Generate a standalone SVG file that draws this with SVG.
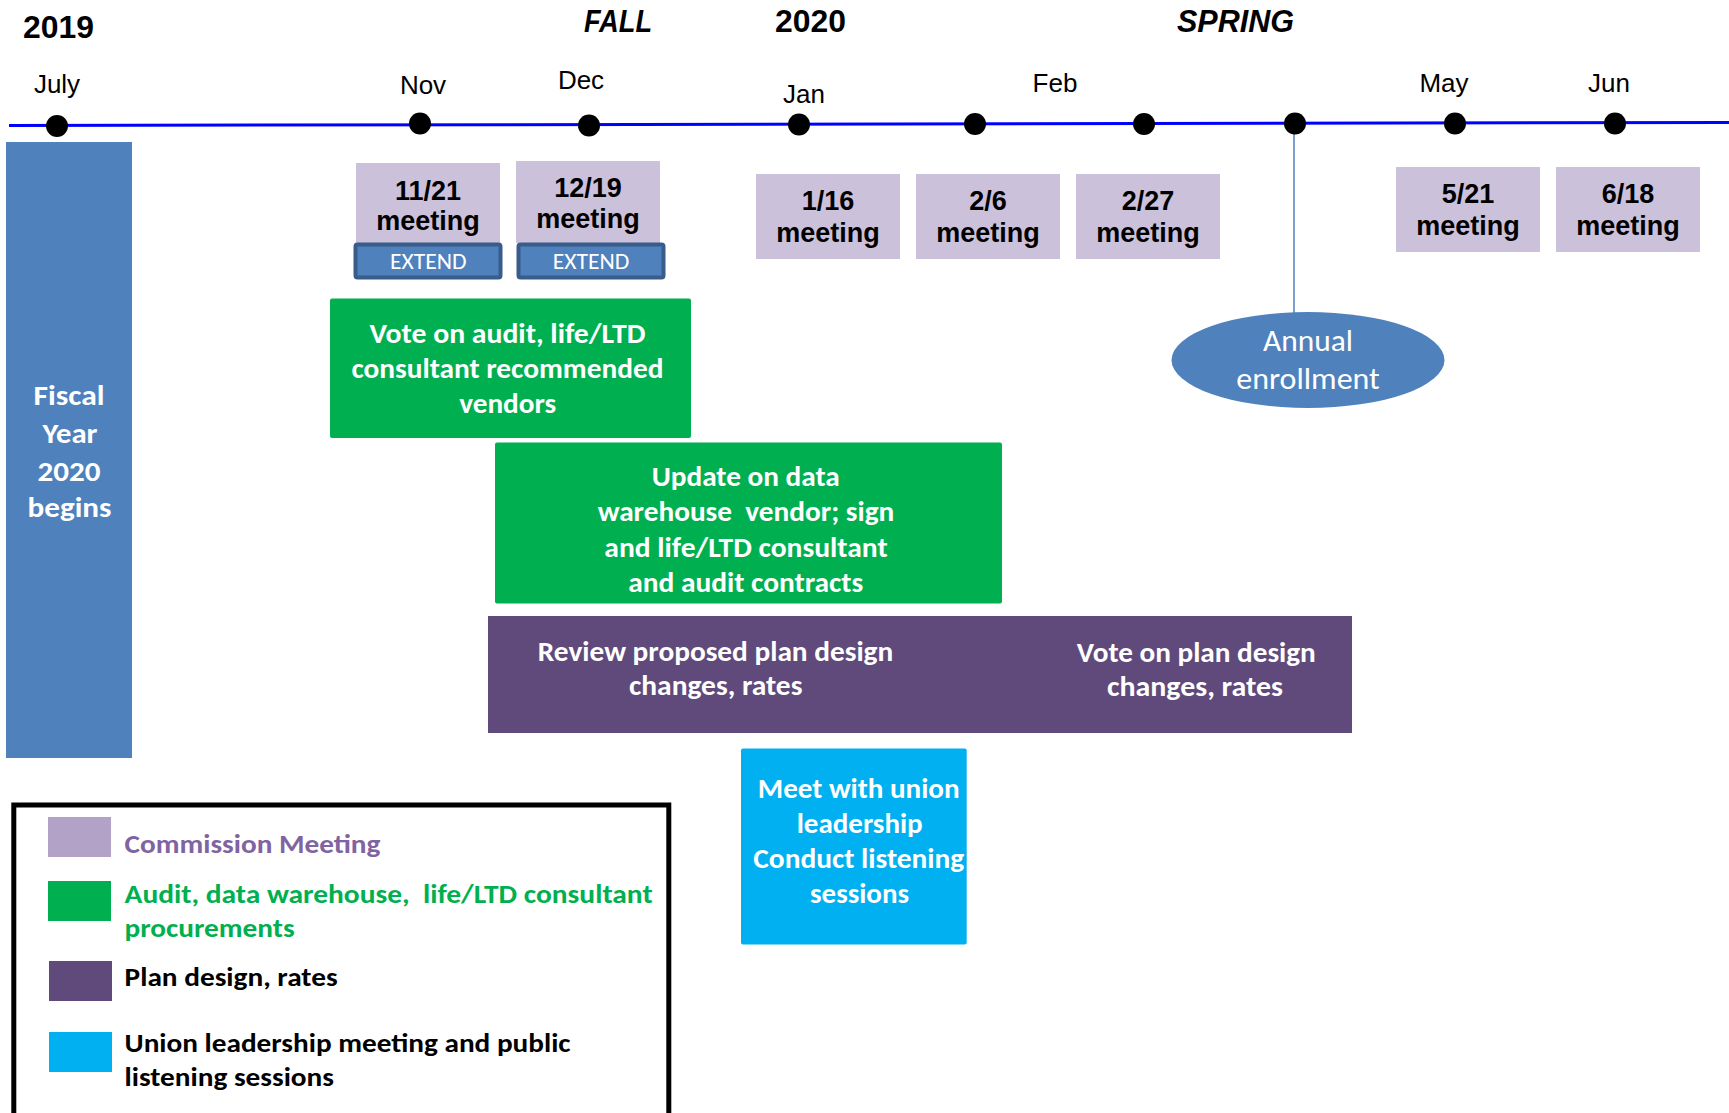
<svg xmlns="http://www.w3.org/2000/svg" width="1729" height="1113" viewBox="0 0 1729 1113">
<style>
.hdr{font-family:"Liberation Sans",Arial,sans-serif;font-weight:bold;font-size:32px;fill:#000;}
.mon{font-family:"Liberation Sans",Arial,sans-serif;font-size:26px;fill:#000;text-anchor:middle;}
.mtg{font-family:"Liberation Sans",Arial,sans-serif;font-weight:bold;font-size:27px;fill:#000;text-anchor:middle;}
.cal{font-family:Carlito,Lato,"Liberation Sans",sans-serif;}
.wb{font-family:Carlito,Lato,"Liberation Sans",sans-serif;font-weight:bold;font-size:27.5px;fill:#fff;text-anchor:middle;}
.leg{font-family:Carlito,Lato,"Liberation Sans",sans-serif;font-weight:bold;font-size:27px;}
.meet{fill:#CCC1DA;}
.dot{fill:#000;}
.ext{fill:#4F81BD;stroke:#385D8A;stroke-width:4;}
.extt{font-family:Carlito,Lato,"Liberation Sans",sans-serif;font-size:23px;fill:#fff;text-anchor:middle;}
</style>

<g id="headers">
<text class="hdr" x="23" y="38" textLength="71" lengthAdjust="spacingAndGlyphs">2019</text>
<text class="hdr" x="584" y="32" font-style="italic" textLength="68" lengthAdjust="spacingAndGlyphs">FALL</text>
<text class="hdr" x="775" y="32" textLength="71" lengthAdjust="spacingAndGlyphs">2020</text>
<text class="hdr" x="1177" y="32" font-style="italic" textLength="117" lengthAdjust="spacingAndGlyphs">SPRING</text>
</g>

<g id="months">
<text class="mon" x="57" y="93">July</text>
<text class="mon" x="423" y="94">Nov</text>
<text class="mon" x="581" y="89">Dec</text>
<text class="mon" x="804" y="103">Jan</text>
<text class="mon" x="1055" y="92">Feb</text>
<text class="mon" x="1444" y="92">May</text>
<text class="mon" x="1609" y="92">Jun</text>
</g>

<g id="connectors">
<line x1="9" y1="125.5" x2="1729" y2="122.5" stroke="#0000FF" stroke-width="3"/>
<line x1="1294" y1="125" x2="1294" y2="313" stroke="#4F81BD" stroke-width="1.5"/>
</g>

<g id="dots">
<circle class="dot" cx="57" cy="126" r="11"/>
<circle class="dot" cx="420" cy="123.5" r="11"/>
<circle class="dot" cx="589" cy="125.5" r="11"/>
<circle class="dot" cx="799" cy="124.5" r="11"/>
<circle class="dot" cx="975" cy="124" r="11"/>
<circle class="dot" cx="1144" cy="124" r="11"/>
<circle class="dot" cx="1295" cy="123.5" r="11"/>
<circle class="dot" cx="1455" cy="123.5" r="11"/>
<circle class="dot" cx="1615" cy="123.5" r="11"/>
</g>

<g id="fiscal-year">
<rect x="6" y="142" width="126" height="616" fill="#4F81BD"/>
<text class="wb" font-size="31" x="69" y="405" textLength="71" lengthAdjust="spacingAndGlyphs">Fiscal</text>
<text class="wb" font-size="31" x="70" y="443" textLength="55" lengthAdjust="spacingAndGlyphs">Year</text>
<text class="wb" font-size="31" x="69" y="481" textLength="63" lengthAdjust="spacingAndGlyphs">2020</text>
<text class="wb" font-size="31" x="69.5" y="517" textLength="84" lengthAdjust="spacingAndGlyphs">begins</text>
</g>

<g id="meeting-1121">
<rect class="meet" x="356" y="163" width="144" height="80"/>
<text class="mtg" x="428" y="200">11/21</text>
<text class="mtg" x="428" y="230">meeting</text>
<rect class="ext" x="355.5" y="244.5" width="145" height="33" rx="2"/>
<text class="extt" x="428.3" y="269" textLength="76.7" lengthAdjust="spacingAndGlyphs">EXTEND</text>
</g>

<g id="meeting-1219">
<rect class="meet" x="516" y="161" width="144" height="82"/>
<text class="mtg" x="588" y="197">12/19</text>
<text class="mtg" x="588" y="228">meeting</text>
<rect class="ext" x="518.5" y="244.5" width="145" height="33" rx="2"/>
<text class="extt" x="591" y="269" textLength="76.7" lengthAdjust="spacingAndGlyphs">EXTEND</text>
</g>

<g id="meeting-116">
<rect class="meet" x="756" y="174" width="144" height="85"/>
<text class="mtg" x="828" y="210">1/16</text>
<text class="mtg" x="828" y="242">meeting</text>
</g>
<g id="meeting-26">
<rect class="meet" x="916" y="174" width="144" height="85"/>
<text class="mtg" x="988" y="210">2/6</text>
<text class="mtg" x="988" y="242">meeting</text>
</g>
<g id="meeting-227">
<rect class="meet" x="1076" y="174" width="144" height="85"/>
<text class="mtg" x="1148" y="210">2/27</text>
<text class="mtg" x="1148" y="242">meeting</text>
</g>
<g id="meeting-521">
<rect class="meet" x="1396" y="167" width="144" height="85"/>
<text class="mtg" x="1468" y="203">5/21</text>
<text class="mtg" x="1468" y="235">meeting</text>
</g>
<g id="meeting-618">
<rect class="meet" x="1556" y="167" width="144" height="85"/>
<text class="mtg" x="1628" y="203">6/18</text>
<text class="mtg" x="1628" y="235">meeting</text>
</g>

<g id="annual-enrollment">
<ellipse cx="1308" cy="360" rx="136.5" ry="48" fill="#4F81BD"/>
<text class="cal" font-size="31" fill="#fff" text-anchor="middle" x="1308" y="351" textLength="90" lengthAdjust="spacingAndGlyphs">Annual</text>
<text class="cal" font-size="31" fill="#fff" text-anchor="middle" x="1308" y="389" textLength="143.5" lengthAdjust="spacingAndGlyphs">enrollment</text>
</g>

<g id="vote-vendors">
<rect x="330" y="298.5" width="361" height="139.5" rx="2" fill="#00B050"/>
<text class="wb" x="507.4" y="343" textLength="276" lengthAdjust="spacingAndGlyphs">Vote on audit, life/LTD</text>
<text class="wb" x="507.4" y="378" textLength="312" lengthAdjust="spacingAndGlyphs">consultant recommended</text>
<text class="wb" x="507.7" y="413" textLength="97" lengthAdjust="spacingAndGlyphs">vendors</text>
</g>

<g id="update-contracts">
<rect x="495" y="442.5" width="507" height="161" rx="2" fill="#00B050"/>
<text class="wb" x="745.7" y="486" textLength="188" lengthAdjust="spacingAndGlyphs">Update on data</text>
<text class="wb" x="746" y="521" textLength="296.7" lengthAdjust="spacingAndGlyphs" xml:space="preserve">warehouse  vendor; sign</text>
<text class="wb" x="746" y="557" textLength="283.3" lengthAdjust="spacingAndGlyphs">and life/LTD consultant</text>
<text class="wb" x="745.7" y="592" textLength="235" lengthAdjust="spacingAndGlyphs">and audit contracts</text>
</g>

<g id="plan-design">
<rect x="488" y="616" width="864" height="117" fill="#604A7B"/>
<text class="wb" x="715.5" y="661" textLength="355.5" lengthAdjust="spacingAndGlyphs">Review proposed plan design</text>
<text class="wb" x="715.7" y="695" textLength="173.4" lengthAdjust="spacingAndGlyphs">changes, rates</text>
<text class="wb" x="1196.3" y="662" textLength="239" lengthAdjust="spacingAndGlyphs">Vote on plan design</text>
<text class="wb" x="1195" y="696" textLength="176" lengthAdjust="spacingAndGlyphs">changes, rates</text>
</g>

<g id="union">
<rect x="741" y="748.5" width="225.7" height="196" rx="2" fill="#00B0F0"/>
<text class="wb" x="858.7" y="798" textLength="201.7" lengthAdjust="spacingAndGlyphs">Meet with union</text>
<text class="wb" x="859.7" y="833" textLength="126" lengthAdjust="spacingAndGlyphs">leadership</text>
<text class="wb" x="858.8" y="868" textLength="211" lengthAdjust="spacingAndGlyphs">Conduct listening</text>
<text class="wb" x="859.5" y="903" textLength="99" lengthAdjust="spacingAndGlyphs">sessions</text>
</g>

<g id="legend">
<rect x="13.8" y="805" width="655" height="330" fill="#fff" stroke="#000" stroke-width="5"/>
<rect x="48" y="817" width="63" height="40" fill="#B3A2C7"/>
<text class="leg" fill="#8064A2" x="124.6" y="853" textLength="255.7" lengthAdjust="spacingAndGlyphs">Commission Meeting</text>
<rect x="48" y="881" width="63" height="40" fill="#00B050"/>
<text class="leg" fill="#00B050" x="124.6" y="903" textLength="528" lengthAdjust="spacingAndGlyphs" xml:space="preserve">Audit, data warehouse,  life/LTD consultant</text>
<text class="leg" fill="#00B050" x="124.6" y="937" textLength="170" lengthAdjust="spacingAndGlyphs">procurements</text>
<rect x="49" y="961" width="63" height="40" fill="#604A7B"/>
<text class="leg" fill="#000" x="124.6" y="986" textLength="213" lengthAdjust="spacingAndGlyphs">Plan design, rates</text>
<rect x="49" y="1032" width="63" height="40" fill="#00B0F0"/>
<text class="leg" fill="#000" x="124.6" y="1052" textLength="446" lengthAdjust="spacingAndGlyphs">Union leadership meeting and public</text>
<text class="leg" fill="#000" x="124.6" y="1086" textLength="209.4" lengthAdjust="spacingAndGlyphs">listening sessions</text>
</g>
</svg>
